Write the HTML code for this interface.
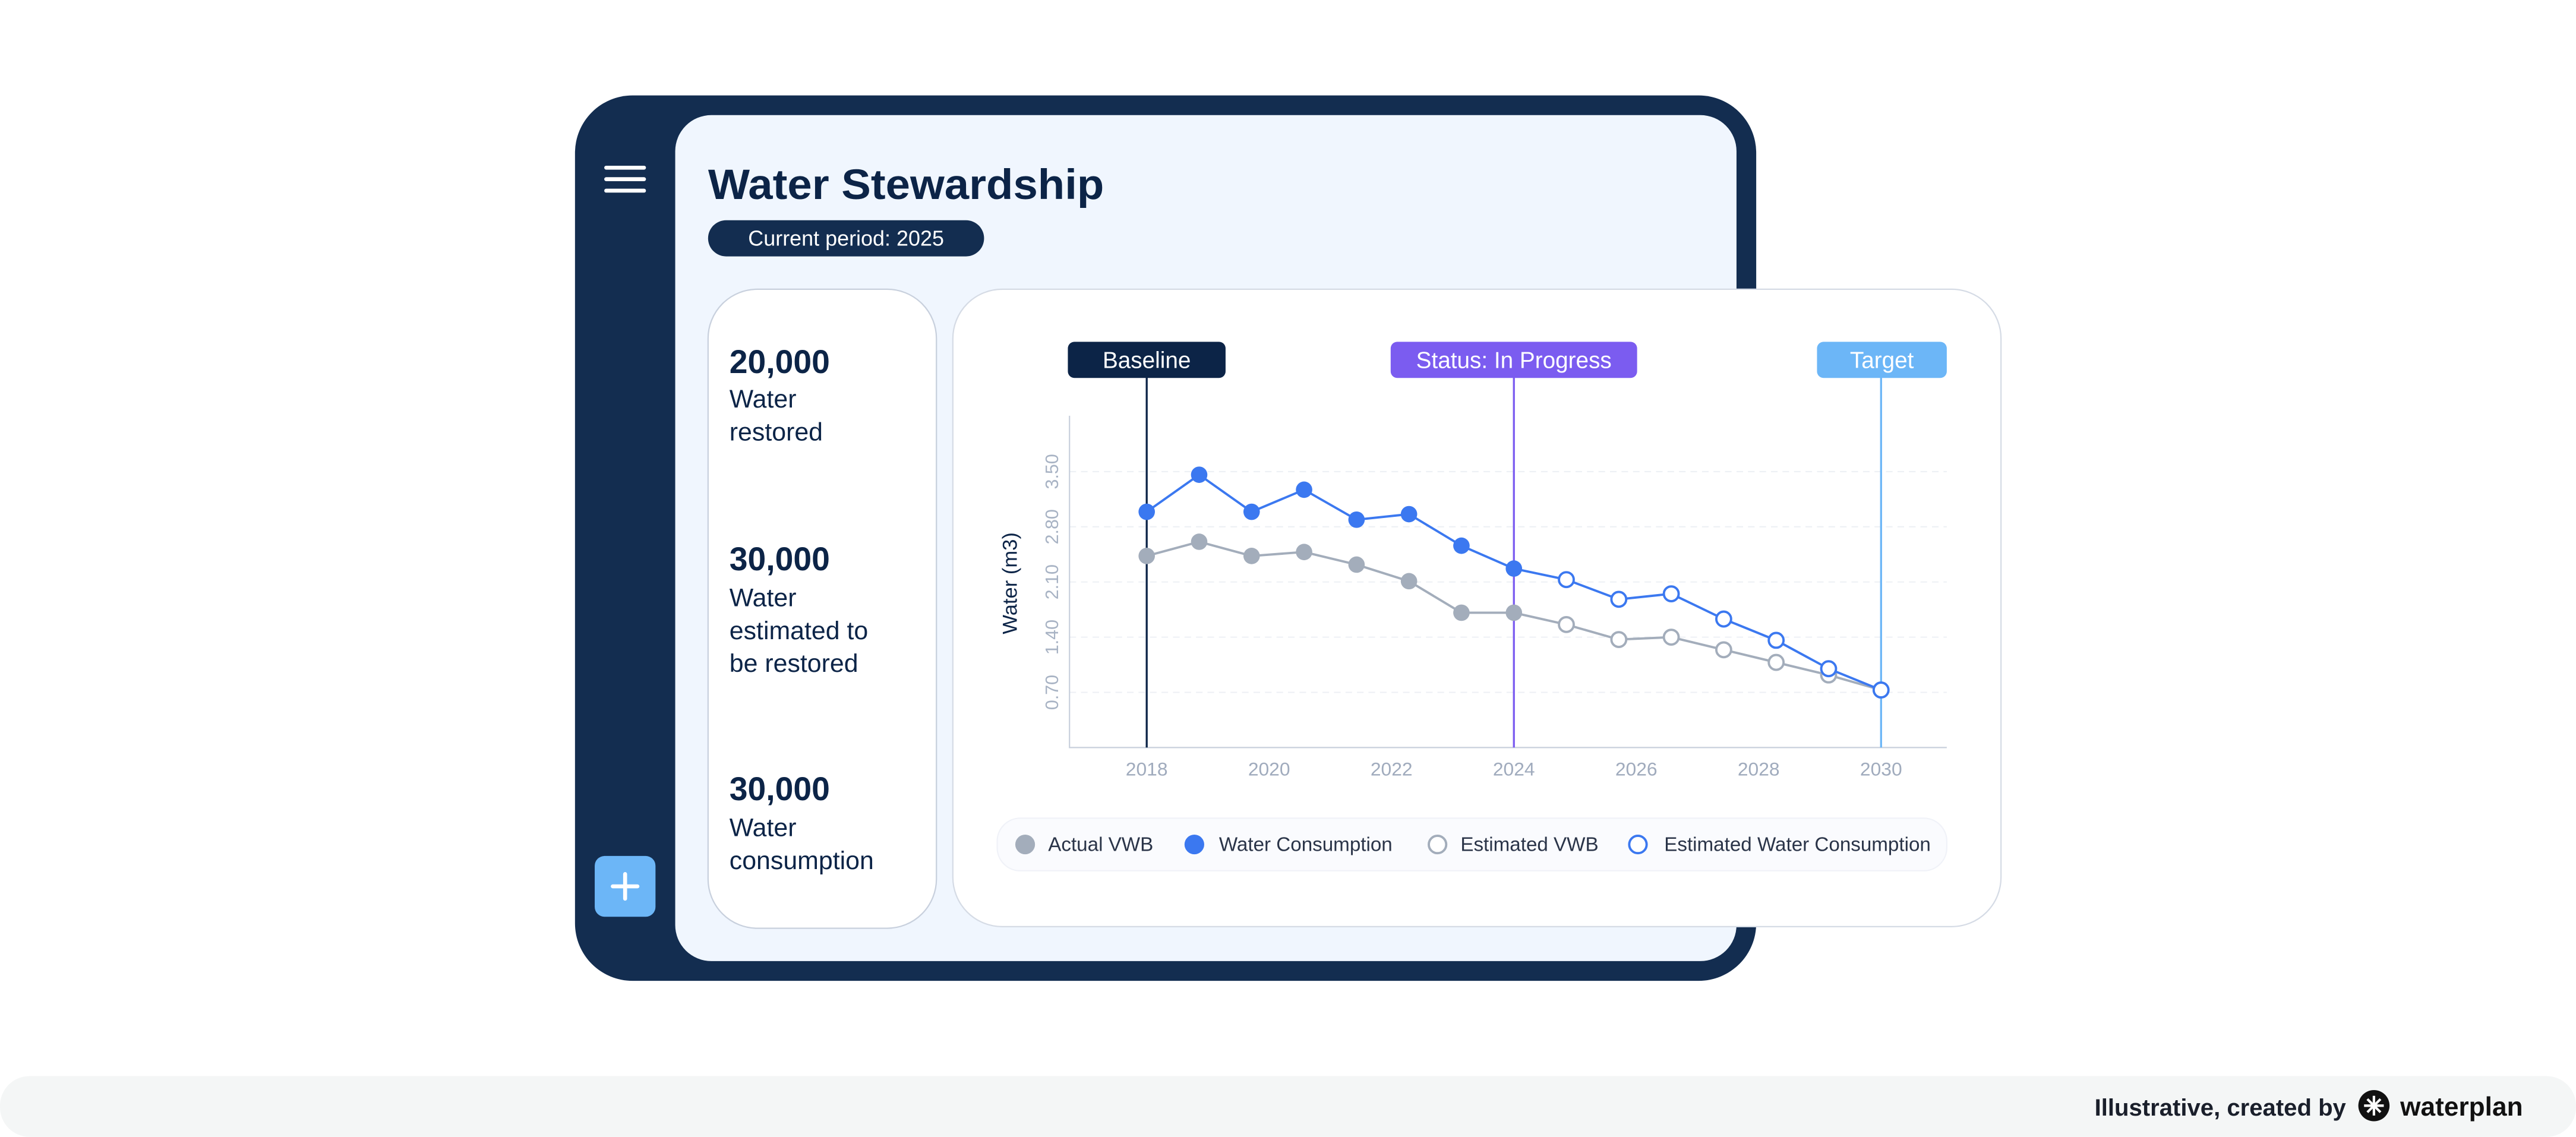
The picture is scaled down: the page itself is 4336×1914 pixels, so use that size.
<!DOCTYPE html>
<html><head><meta charset="utf-8"><style>
html,body{margin:0;padding:0;background:#fff}
svg{display:block;font-family:"Liberation Sans",sans-serif}
</style></head><body>
<svg id="root" width="4336" height="1914" viewBox="0 0 1568 692">
<rect x="0" y="655" width="1568" height="37" rx="18" fill="#f4f6f6"/>
<text x="1428" y="679" text-anchor="end" font-size="14.5" font-weight="bold" fill="#1a1f2b">Illustrative, created by</text>
<g>
<circle cx="1445" cy="673" r="9.5" fill="#111"/>
<g stroke="#fff" stroke-width="1.5"><line x1="1445" y1="667" x2="1445" y2="679"/><line x1="1439" y1="673" x2="1451" y2="673"/><line x1="1441" y1="669" x2="1449" y2="677"/><line x1="1449" y1="669" x2="1441" y2="677"/></g>
<text x="1461" y="679" font-size="16" font-weight="bold" fill="#111">waterplan</text>
</g>
<rect x="350" y="58" width="719" height="539" rx="35" fill="#132d50"/>
<rect x="411" y="70" width="646" height="515" rx="22" fill="#f0f6fe"/>
<g stroke="#fff" stroke-width="2.4" stroke-linecap="round"><line x1="369" y1="102" x2="392" y2="102"/><line x1="369" y1="109" x2="392" y2="109"/><line x1="369" y1="116" x2="392" y2="116"/></g>
<g><rect x="362" y="521" width="37" height="37" rx="6" fill="#6cb6f7"/><g stroke="#fff" stroke-width="2.4" stroke-linecap="round"><line x1="380.5" y1="532" x2="380.5" y2="547"/><line x1="373" y1="539.5" x2="388" y2="539.5"/></g></g>
<text x="431" y="121" font-size="26" font-weight="900" fill="#0c2447" textLength="241" lengthAdjust="spacingAndGlyphs">Water Stewardship</text>
<g><rect x="431" y="134" width="168" height="22" rx="11" fill="#132d50"/><text x="515" y="149.5" text-anchor="middle" font-size="13" fill="#fff">Current period: 2025</text></g>
<rect x="431" y="176" width="139" height="389" rx="30" fill="#fff" stroke="#c8d0dd" stroke-width="0.8"/>
<g fill="#0c2447" font-size="15.5">
<text x="444" y="227" font-size="20" font-weight="bold">20,000</text>
<text x="444" y="248"><tspan x="444">Water</tspan><tspan x="444" dy="20">restored</tspan></text>
<text x="444" y="347" font-size="20" font-weight="bold">30,000</text>
<text x="444" y="369"><tspan x="444">Water</tspan><tspan x="444" dy="20">estimated to</tspan><tspan x="444" dy="20">be restored</tspan></text>
<text x="444" y="487" font-size="20" font-weight="bold">30,000</text>
<text x="444" y="509"><tspan x="444">Water</tspan><tspan x="444" dy="20">consumption</tspan></text>
</g>
<rect x="580" y="176" width="638" height="388" rx="30" fill="#fff" stroke="#d5dbe5" stroke-width="0.8"/>
<g id="chart"></g>
<g>
<rect x="607" y="498" width="578" height="32" rx="14" fill="#fafbfe" stroke="#f0f2f8" stroke-width="0.8"/>
<g><circle cx="624" cy="514" r="6" fill="#a3adbb"/><text x="638" y="518" font-size="12" fill="#2a3448">Actual VWB</text></g>
<g><circle cx="727" cy="514" r="6" fill="#3b78f0"/><text x="742" y="518" font-size="12" fill="#2a3448">Water Consumption</text></g>
<g><circle cx="875" cy="514" r="5.3" fill="#fff" stroke="#a3adbb" stroke-width="1.4"/><text x="889" y="518" font-size="12" fill="#2a3448">Estimated VWB</text></g>
<g><circle cx="997" cy="514" r="5.3" fill="#fff" stroke="#3b78f0" stroke-width="1.4"/><text x="1013" y="518" font-size="12" fill="#2a3448">Estimated Water Consumption</text></g>
</g>
</svg>
<script>
const yearTicks = [2018, 2020, 2022, 2024, 2026, 2028, 2030];
const yTicks = [0.70, 1.40, 2.10, 2.80, 3.50];
const pointIndex = [0,1,2,3,4,5,6,7,8,9,10,11,12,13,14];
const consumption = [2.99, 3.46, 2.99, 3.27, 2.89, 2.96, 2.56, 2.27, 2.13, 1.88, 1.95, 1.63, 1.36, 1.00, 0.73];
const vwb = [2.43, 2.61, 2.43, 2.48, 2.32, 2.11, 1.71, 1.71, 1.56, 1.37, 1.40, 1.24, 1.08, 0.92, 0.73];
const lastActualIndex = 7;
const markerYears = [2018, 2024, 2030];
const markerLabels = ["Baseline", "Status: In Progress", "Target"];

const NS = "http://www.w3.org/2000/svg";
const chart = document.getElementById("chart");
const X0 = 698, X1 = 1145, Y0 = 455, YPER = 48;
function xYear(y){ return X0 + (y - 2018) / 12 * (X1 - X0); }
function xIdx(i){ return X0 + i / 14 * (X1 - X0); }
function yv(v){ return Y0 - v * YPER; }
function mk(tag, attrs, parent){ const e = document.createElementNS(NS, tag); for (const k in attrs) e.setAttribute(k, attrs[k]); (parent||chart).appendChild(e); return e; }

yTicks.forEach(v => {
  const g = mk("line", {x1: 651, x2: 1185, y1: yv(v), y2: yv(v), stroke: "#eceff4", "stroke-width": 0.7, "stroke-dasharray": "4 3"});
  
  
  const t = mk("text", {x: 0, y: 0, transform: `translate(644 ${yv(v)}) rotate(-90)`, "text-anchor": "middle", "font-size": 11, fill: "#a8b3c4"});
  t.textContent = v.toFixed(2);
  
  
});
const ax = mk("path", {d: "M651 253 V455 H1185", fill: "none", stroke: "#c9d0dc", "stroke-width": 0.8});


const yt = mk("text", {x: 0, y: 0, transform: "translate(619 355) rotate(-90)", "text-anchor": "middle", "font-size": 12.5, fill: "#0c2447"});
yt.textContent = "Water (m3)";


yearTicks.forEach(y => {
  const t = mk("text", {x: xYear(y), y: 472, "text-anchor": "middle", "font-size": 11.5, fill: "#a0abbd"});
  t.textContent = y;
  
  
});
const mColors = ["#0c2447", "#7b5cf0", "#6cb6f7"];
const mWidths = [96, 150, 79];
markerYears.forEach((y, i) => {
  const x = xYear(y);
  const l = mk("line", {x1: x, x2: x, y1: 228, y2: 455, stroke: mColors[i], "stroke-width": 1.2});
  
  
  const w = mWidths[i];
  const bx = i === 2 ? 1185 - w : x - w / 2;
  const g = mk("g", {});
  
  
  mk("rect", {x: bx, y: 208, width: w, height: 22, rx: 4, fill: mColors[i]}, g);
  const t = mk("text", {x: bx + w / 2, y: 224, "text-anchor": "middle", "font-size": 14, "font-weight": 500, fill: "#fff"}, g);
  t.textContent = markerLabels[i];
});
function series(vals, color, name){
  const d = pointIndex.map((i, k) => (k ? "L" : "M") + xIdx(i) + " " + yv(vals[k])).join(" ");
  const p = mk("path", {d, fill: "none", stroke: color, "stroke-width": 1.4});
  
  
  pointIndex.forEach((i, k) => {
    const filled = i <= lastActualIndex;
    const c = mk("circle", {cx: xIdx(i), cy: yv(vals[k]), r: filled ? 5 : 4.5, fill: filled ? color : "#fff", stroke: color, "stroke-width": filled ? 0 : 1.4});
    
    
  });
}
series(vwb, "#a3adbb", "vwb");
series(consumption, "#3b78f0", "consumption");
</script>
</body></html>
